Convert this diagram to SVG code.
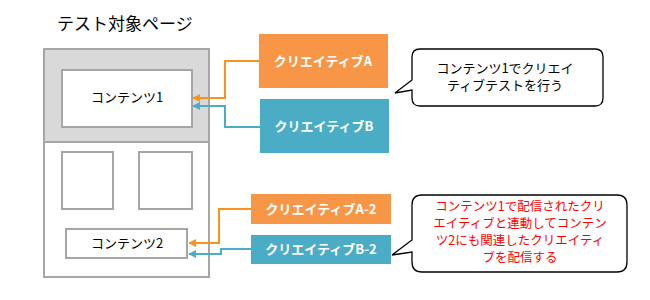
<svg xmlns="http://www.w3.org/2000/svg" width="650" height="300" viewBox="0 0 650 300">
<defs>
<style>
.t{font-family:"Noto Sans CJK JP","Noto Sans",sans-serif;}
.box{fill:#fff;stroke:#A6A6A6;stroke-width:2;}
.cr{font-family:"Noto Sans CJK JP","Noto Sans",sans-serif;font-size:13px;font-weight:bold;fill:#fff;text-anchor:middle;}
.lbl{font-size:13px;fill:#000;text-anchor:middle;}
.call{fill:#fff;stroke:#000;stroke-width:1.3;}
.ao{fill:none;stroke:#F7941D;stroke-width:2;marker-end:url(#mo);}
.ab{fill:none;stroke:#4BACC6;stroke-width:2;marker-end:url(#mb);}
</style>
<marker id="mo" viewBox="0 0 10 10" refX="9" refY="5" markerWidth="4" markerHeight="4" orient="auto"><path d="M0,0L10,5L0,10z" fill="#F7941D"/></marker>
<marker id="mb" viewBox="0 0 10 10" refX="9" refY="5" markerWidth="4" markerHeight="4" orient="auto"><path d="M0,0L10,5L0,10z" fill="#4BACC6"/></marker>
</defs>
<text class="t" x="57" y="30" font-size="17" fill="#000">テスト対象ページ</text>
<g id="page">
<rect x="44" y="49" width="165" height="93" fill="#D9D9D9" stroke="#A6A6A6" stroke-width="2"/>
<rect x="44" y="142" width="165" height="135" fill="#fff" stroke="#A6A6A6" stroke-width="2"/>
</g>
<g id="content1">
<rect class="box" x="62" y="70" width="130" height="57"/>
<text class="t lbl" x="127" y="102">コンテンツ1</text>
</g>
<g id="box1"><rect class="box" x="62" y="152" width="51" height="57"/></g>
<g id="box2"><rect class="box" x="139" y="152" width="53" height="57"/></g>
<g id="content2">
<rect class="box" x="66" y="229" width="121" height="29"/>
<text class="t lbl" x="127" y="248">コンテンツ2</text>
</g>
<g id="creativeA">
<rect x="259" y="34" width="129" height="54" fill="#F79646"/>
<text class="cr" x="323" y="66">クリエイティブA</text>
</g>
<g id="creativeB">
<rect x="260" y="99" width="129" height="54" fill="#4BACC6"/>
<text class="cr" x="324" y="131">クリエイティブB</text>
</g>
<g id="creativeA2">
<rect x="251" y="194" width="140" height="30" fill="#F79646"/>
<text class="cr" x="321" y="214">クリエイティブA-2</text>
</g>
<g id="creativeB2">
<rect x="251" y="235" width="140" height="29" fill="#4BACC6"/>
<text class="cr" x="321" y="254">クリエイティブB-2</text>
</g>
<g id="connectors">
<path class="ao" d="M259,61H225V98H193"/>
<path class="ab" d="M260,127H225V106H193"/>
<path class="ao" d="M251,209H219V243H189"/>
<path class="ab" d="M251,249H221V254H189"/>
</g>
<g id="callout1">
<path class="call" d="M420,49H595Q603,49 603,57V98Q603,106 595,106H420Q412,106 412,98V90L395,93L412,80V57Q412,49 420,49Z"/>
<text class="t" font-size="13" text-anchor="middle" fill="#000"><tspan x="505" y="73">コンテンツ1でクリエイ</tspan><tspan x="505" y="90">ティブテストを行う</tspan></text>
</g>
<g id="callout2">
<path class="call" d="M422,195H617Q627,195 627,205V262Q627,272 617,272H422Q412,272 412,262V252L392,255L412,240V205Q412,195 422,195Z"/>
<text class="t" font-size="12.5" text-anchor="middle" fill="#FF0000"><tspan x="520" y="211">コンテンツ1で配信されたクリ</tspan><tspan x="520" y="228">エイティブと連動してコンテン</tspan><tspan x="520" y="245">ツ2にも関連したクリエイティ</tspan><tspan x="520" y="262">ブを配信する</tspan></text>
</g>
</svg>
